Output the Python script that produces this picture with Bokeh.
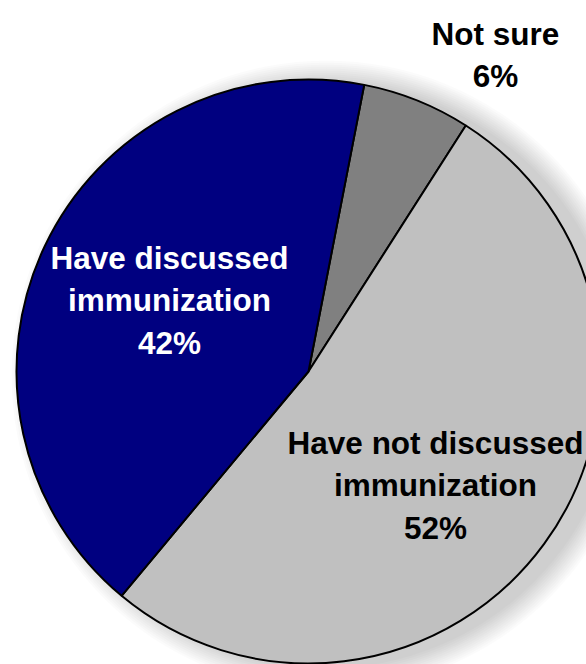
import math
from bokeh.plotting import figure
from bokeh.models import Range1d, ColumnDataSource
from bokeh.core.properties import value
from bokeh.embed import file_html
from bokeh.resources import INLINE

# ---- data ----
categories = ["Not sure", "Have not discussed immunization", "Have discussed immunization"]
percents = [6, 52, 42]
colors = ["#808080", "#C0C0C0", "#000080"]
label_lines = [["Not sure"], ["Have not discussed", "immunization"], ["Have discussed", "immunization"]]
label_colors = ["black", "black", "white"]

# ---- layout (picture pixel coordinates; y negated) ----
W, H = 586, 664
cx, cy, R = 308, -371, 292
start_clock = 11.0  # degrees clockwise from 12 o'clock where first slice begins
label_anchor = [(495, 33), (435, 442), (169, 257)]  # baseline of first line
line_step = 42.5
FONT = "Liberation Sans"
FSIZE = "31.5px"

p = figure(width=W, height=H, output_backend="svg", toolbar_location=None,
           x_range=Range1d(0, W), y_range=Range1d(-H, 0),
           min_border=0, outline_line_color=None, background_fill_color="white",
           border_fill_color="white")
p.axis.visible = False
p.grid.visible = False

# soft drop shadow
for k in range(12):
    p.circle(x=[cx + 18], y=[cy - 4], radius=R + 1 + 2 * k, fill_color="#000000",
             fill_alpha=0.014, line_color=None)

# wedges
total = sum(percents)
starts, ends = [], []
cum = 0.0
for v in percents:
    a0 = 90 - start_clock - 360 * cum / total
    cum += v
    a1 = 90 - start_clock - 360 * cum / total
    starts.append(math.radians(a1))
    ends.append(math.radians(a0))

src = ColumnDataSource(dict(start=starts, end=ends, color=colors, cat=categories))
p.wedge(x=cx, y=cy, radius=R, start_angle="start", end_angle="end",
        fill_color="color", line_color="black", line_width=2, source=src)

# labels
xs, ys, texts, tcols = [], [], [], []
for lines, pct, (lx, ly), col in zip(label_lines, percents, label_anchor, label_colors):
    all_lines = lines + [f"{pct}%"]
    for i, t in enumerate(all_lines):
        xs.append(lx)
        ys.append(-(ly + i * line_step))
        texts.append(t)
        tcols.append(col)

p.text(x=xs, y=ys, text=texts, text_color=tcols, text_align="center",
       text_baseline="alphabetic", text_font=value(FONT), text_font_style="bold",
       text_font_size=FSIZE)

open("out.html", "w").write(file_html(p, INLINE))
